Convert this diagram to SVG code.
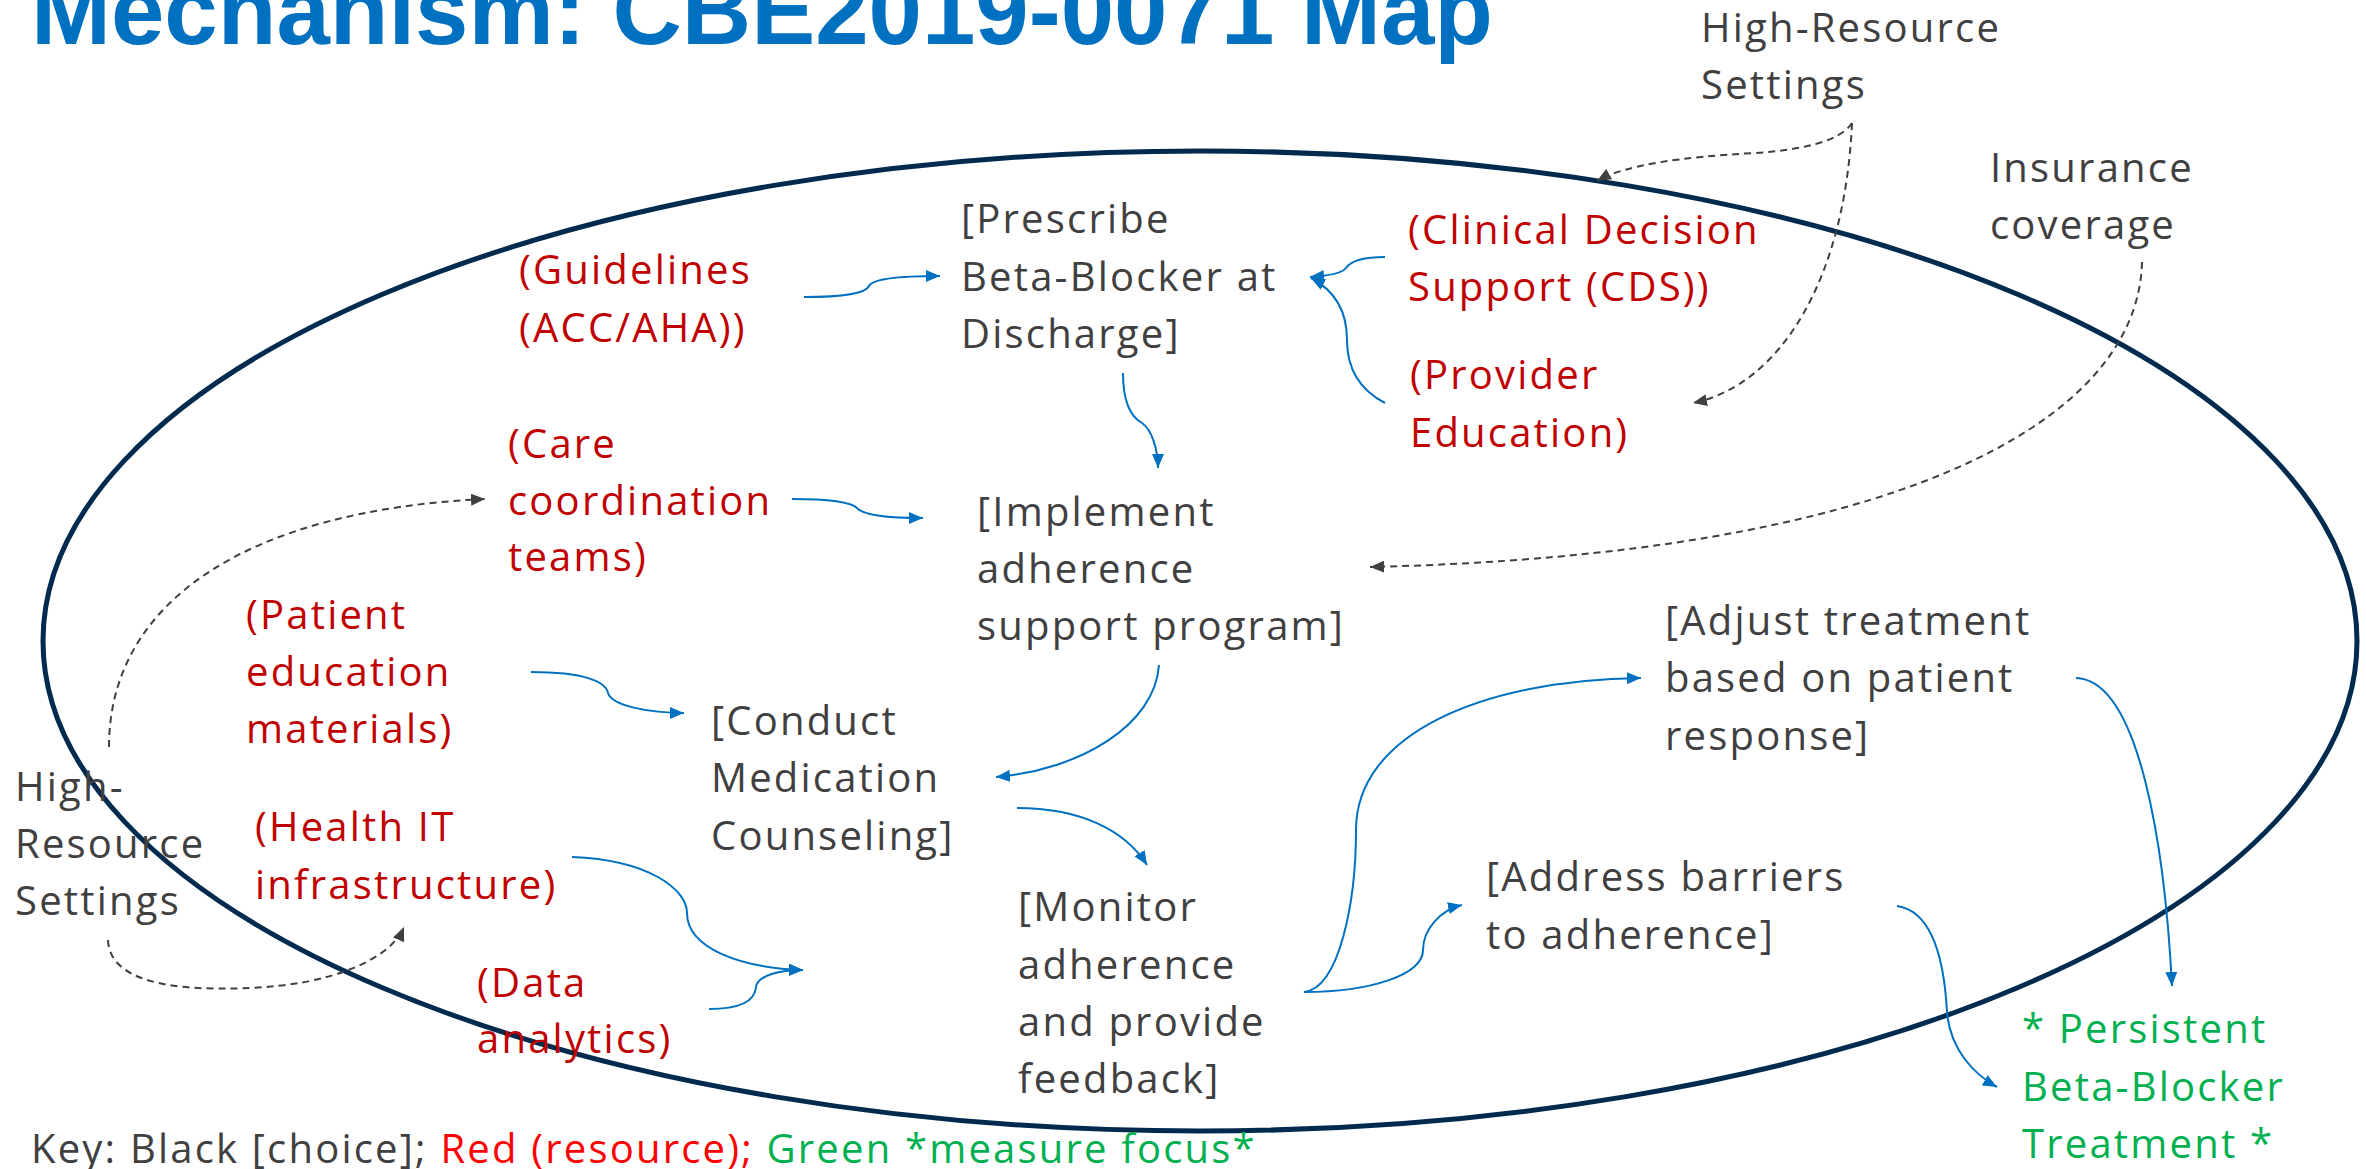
<svg xmlns="http://www.w3.org/2000/svg" width="2366" height="1169" viewBox="0 0 2366 1169">
  <style>
    .t { font-family: "Open Sans", "Noto Sans", sans-serif; font-size: 40px; letter-spacing: 2.2px; }
    .choice { fill: #404040; }
    .res { fill: #C00000; }
    .focus { fill: #00B050; }
    .ctx { fill: #404040; }
    .flow { fill: none; stroke: #0070C0; stroke-width: 2; }
    .ctxlink { fill: none; stroke: #404040; stroke-width: 2; stroke-dasharray: 7 5; }
  </style>
  <defs>
    <marker id="arrowBlue" markerUnits="userSpaceOnUse" markerWidth="14" markerHeight="12" refX="14" refY="6" orient="auto">
      <path d="M0,0 L14,6 L0,12 z" fill="#0070C0"/>
    </marker>
    <marker id="arrowGray" markerUnits="userSpaceOnUse" markerWidth="14" markerHeight="12" refX="14" refY="6" orient="auto">
      <path d="M0,0 L14,6 L0,12 z" fill="#404040"/>
    </marker>
  </defs>

  <rect width="2366" height="1169" fill="#ffffff"/>

  <!-- Title -->
  <text x="31" y="44" font-family="Liberation Sans, Arial, sans-serif" font-weight="bold" font-size="96" fill="#0070C0">Mechanism: CBE2019-0071 Map</text>

  <!-- System boundary -->
  <ellipse cx="1200" cy="641" rx="1157" ry="490" fill="none" stroke="#002B4E" stroke-width="5"/>

  <!-- Connectors -->
  <g id="connectors">
    <path class="flow" d="M804,297 C845,297 866,293 869,286 C873,278 905,276 940,276" marker-end="url(#arrowBlue)"/>
    <path class="flow" d="M1385,257 C1360,257 1350,262 1346,268 C1342,274 1325,276 1310,277" marker-end="url(#arrowBlue)"/>
    <path class="flow" d="M1385,403 C1360,390 1347,370 1347,340 C1347,305 1330,288 1311,278" marker-end="url(#arrowBlue)"/>
    <path class="flow" d="M1123,373 C1123,405 1133,418 1142,423 C1152,430 1158,450 1158,468" marker-end="url(#arrowBlue)"/>
    <path class="flow" d="M792,499 C835,499 852,503 857,508 C864,516 895,518 923,518" marker-end="url(#arrowBlue)"/>
    <path class="flow" d="M531,672 C585,672 606,682 608,693 C612,706 650,713 684,713" marker-end="url(#arrowBlue)"/>
    <path class="flow" d="M1159,665 C1155,725 1080,770 996,777" marker-end="url(#arrowBlue)"/>
    <path class="flow" d="M1017,808 C1080,808 1125,830 1147,865" marker-end="url(#arrowBlue)"/>
    <path class="flow" d="M572,857 C650,860 687,890 687,913 C687,948 740,968 803,970" marker-end="url(#arrowBlue)"/>
    <path class="flow" d="M709,1009 C742,1009 755,1000 756,987 C758,975 780,970 803,970" marker-end="url(#arrowBlue)"/>
    <path class="flow" d="M1304,992 C1340,988 1356,900 1356,830 C1356,735 1480,680 1641,678" marker-end="url(#arrowBlue)"/>
    <path class="flow" d="M1304,992 C1370,992 1423,975 1423,950 C1423,930 1440,910 1462,905" marker-end="url(#arrowBlue)"/>
    <path class="flow" stroke-width="1.6" d="M2076,678 C2140,680 2165,850 2172,986" marker-end="url(#arrowBlue)"/>
    <path class="flow" stroke-width="1.6" d="M1897,906 C1938,912 1945,975 1947,1012 C1950,1050 1975,1075 1997,1087" marker-end="url(#arrowBlue)"/>

    <path class="ctxlink" d="M1852,123 C1840,142 1800,150 1755,153 C1680,157 1625,165 1597,181" marker-end="url(#arrowGray)"/>
    <path class="ctxlink" d="M1852,123 C1845,280 1780,385 1693,403" marker-end="url(#arrowGray)"/>
    <path class="ctxlink" d="M2142,262 C2138,425 1890,555 1370,567" marker-end="url(#arrowGray)"/>
    <path class="ctxlink" d="M109,747 C109,600 250,510 485,499" marker-end="url(#arrowGray)"/>
    <path class="ctxlink" d="M108,940 C110,990 200,990 249,988 C330,985 390,960 404,927" marker-end="url(#arrowGray)"/>
  </g>

  <!-- Context factors -->
  <g id="ctx-high-resource-top">
    <text class="t ctx"><tspan x="1701" y="42">High-Resource</tspan><tspan x="1701" y="99">Settings</tspan></text>
  </g>
  <g id="ctx-insurance">
    <text class="t ctx"><tspan x="1990" y="182">Insurance</tspan><tspan x="1990" y="239">coverage</tspan></text>
  </g>
  <g id="ctx-high-resource-left">
    <text class="t ctx"><tspan x="15" y="801">High-</tspan><tspan x="15" y="858">Resource</tspan><tspan x="15" y="915">Settings</tspan></text>
  </g>

  <!-- Choices -->
  <g id="choice-prescribe">
    <text class="t choice"><tspan x="961" y="233">[Prescribe</tspan><tspan x="961" y="291">Beta-Blocker at</tspan><tspan x="961" y="348">Discharge]</tspan></text>
  </g>
  <g id="choice-implement">
    <text class="t choice"><tspan x="977" y="526">[Implement</tspan><tspan x="977" y="583">adherence</tspan><tspan x="977" y="640">support program]</tspan></text>
  </g>
  <g id="choice-conduct">
    <text class="t choice"><tspan x="711" y="735">[Conduct</tspan><tspan x="711" y="792">Medication</tspan><tspan x="711" y="850">Counseling]</tspan></text>
  </g>
  <g id="choice-monitor">
    <text class="t choice"><tspan x="1018" y="921">[Monitor</tspan><tspan x="1018" y="979">adherence</tspan><tspan x="1018" y="1036">and provide</tspan><tspan x="1018" y="1093">feedback]</tspan></text>
  </g>
  <g id="choice-adjust">
    <text class="t choice"><tspan x="1665" y="635">[Adjust treatment</tspan><tspan x="1665" y="692">based on patient</tspan><tspan x="1665" y="750">response]</tspan></text>
  </g>
  <g id="choice-address">
    <text class="t choice"><tspan x="1486" y="891">[Address barriers</tspan><tspan x="1486" y="949">to adherence]</tspan></text>
  </g>

  <!-- Resources -->
  <g id="res-guidelines">
    <text class="t res"><tspan x="519" y="284">(Guidelines</tspan><tspan x="519" y="342">(ACC/AHA))</tspan></text>
  </g>
  <g id="res-cds">
    <text class="t res"><tspan x="1408" y="244">(Clinical Decision</tspan><tspan x="1408" y="301">Support (CDS))</tspan></text>
  </g>
  <g id="res-provider-education">
    <text class="t res"><tspan x="1410" y="389">(Provider</tspan><tspan x="1410" y="447">Education)</tspan></text>
  </g>
  <g id="res-care-coordination">
    <text class="t res"><tspan x="508" y="458">(Care</tspan><tspan x="508" y="515">coordination</tspan><tspan x="508" y="571">teams)</tspan></text>
  </g>
  <g id="res-patient-education">
    <text class="t res"><tspan x="246" y="629">(Patient</tspan><tspan x="246" y="686">education</tspan><tspan x="246" y="743">materials)</tspan></text>
  </g>
  <g id="res-health-it">
    <text class="t res"><tspan x="255" y="841">(Health IT</tspan><tspan x="255" y="899">infrastructure)</tspan></text>
  </g>
  <g id="res-data-analytics">
    <text class="t res"><tspan x="477" y="997">(Data</tspan><tspan x="477" y="1053">analytics)</tspan></text>
  </g>

  <!-- Measure focus -->
  <g id="focus-persistent">
    <text class="t focus"><tspan x="2022" y="1043">* Persistent</tspan><tspan x="2022" y="1101">Beta-Blocker</tspan><tspan x="2022" y="1158">Treatment *</tspan></text>
  </g>

  <!-- Legend -->
  <g id="legend">
    <text class="t" x="31" y="1163"><tspan fill="#404040">Key: Black [choice]; </tspan><tspan fill="#FF0000">Red (resource); </tspan><tspan fill="#00B050">Green *measure focus*</tspan></text>
  </g>
</svg>
